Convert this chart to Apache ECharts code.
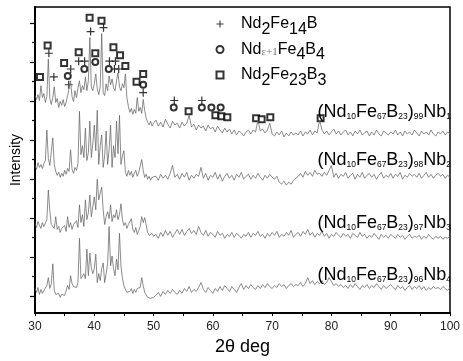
<!DOCTYPE html>
<html>
<head>
<meta charset="utf-8">
<script src="https://cdn.jsdelivr.net/npm/echarts@6/dist/echarts.min.js"></script>
<style>
  html, body { margin: 0; padding: 0; background: #fff; }
  #xrd { width: 463px; height: 361px; }
</style>
</head>
<body>
<div id="xrd"></div>
<script>
// sampling of the patterns: 30-50 deg every 0.25, 50.4-100 deg every 0.4
var lowStart = 30, lowStep = 0.25;
var highStart = 50.4, highStep = 0.4;

// intensities (a.u., offset per pattern)
var nb1Low = [
  221,217,222,216,231,219,223,214,
  220,258,218,212,219,230,214,218,
  209,215,211,217,210,214,221,222,
  236,220,215,226,219,229,236,224,
  231,227,240,226,236,280,230,226,
  233,243,228,222,230,284,224,221,
  233,226,241,232,238,229,226,236,
  244,230,226,233,229,243,219,210,
  204,208,202,207,203,219,205,209,
  203,217,206,198,194,191,195,190,
  193
];
var nb1High = [
  196,190,194,189,197,192,188,195,191,193,
  188,194,190,193,201,189,192,186,191,188,
  190,185,191,187,189,184,190,186,183,188,
  184,187,182,186,181,185,183,180,184,186,
  182,186,184,196,185,187,183,186,193,182,
  180,184,181,185,179,183,180,184,181,183,
  181,185,180,184,182,186,181,185,183,196,
  186,182,185,181,184,187,182,185,181,184,
  186,181,184,180,185,182,186,181,183,185,
  180,184,181,186,182,180,185,183,181,184,
  182,186,181,184,180,185,182,184,181,186,
  183,180,185,182,184,181,186,182,180,184,
  182,185,181,184,182
];
var nb2Low = [
  150,146,153,148,151,147,152,155,
  186,157,150,148,178,151,144,140,
  143,138,142,139,145,141,147,144,
  166,146,142,148,145,152,205,161,
  170,158,188,155,163,195,158,172,
  191,165,206,151,170,181,148,160,
  185,151,166,191,148,170,158,195,
  162,201,151,160,165,143,139,145,
  140,144,138,142,145,139,143,141,
  156,145,138,141,136,139,135,138,
  136
];
var nb2High = [
  139,135,141,137,140,136,142,150,138,141,
  136,142,138,143,135,140,137,141,139,148,
  137,142,135,140,138,143,136,141,134,139,
  142,137,140,135,141,138,143,136,139,141,
  136,140,137,142,138,135,140,137,141,138,
  136,139,133,131,134,130,133,131,135,137,
  139,142,138,144,140,143,139,145,141,142,
  139,143,140,145,150,138,142,137,141,139,
  143,137,140,142,136,141,138,143,137,140,
  142,138,141,136,140,143,137,140,138,142,
  137,141,139,143,136,140,138,142,139,141,
  138,142,137,140,143,138,141,137,140,142,
  139,141,137,140,138
];
var nb3Low = [
  91,87,93,89,86,92,88,90,
  95,125,104,90,92,86,98,85,
  88,82,86,84,89,83,98,87,
  92,85,90,88,94,87,110,92,
  100,88,115,95,102,120,98,108,
  118,105,136,115,122,128,105,90,
  98,103,96,110,93,100,97,105,
  95,100,111,95,89,92,86,90,
  88,96,85,82,87,80,84,88,
  98,92,97,90,82,79,77,81,
  78
];
var nb3High = [
  80,76,82,78,84,79,83,77,81,85,
  80,85,79,83,86,81,84,80,88,82,
  79,84,78,82,80,77,83,79,81,76,
  80,78,82,77,81,79,76,80,78,82,
  77,81,79,83,78,80,76,81,78,82,
  79,83,77,80,78,82,79,84,77,80,
  82,78,83,80,85,79,82,77,81,79,
  83,78,81,76,80,78,82,79,77,81,
  78,80,76,81,79,77,82,78,80,76,
  79,77,81,78,75,80,77,79,76,80,
  78,76,80,77,79,75,78,80,76,78,
  77,79,75,78,76,80,77,75,78,76,
  78,75,77,76,78
];
var nb4Low = [
  25,21,26,19,24,20,23,22,
  28,36,25,30,50,23,19,17,
  20,16,19,17,18,20,28,24,
  38,30,27,29,26,31,76,35,
  33,40,35,65,38,61,46,40,
  45,60,31,40,33,45,51,31,
  40,50,88,48,58,45,38,55,
  44,81,48,35,28,24,21,23,
  22,25,20,24,21,25,23,26,
  36,28,21,19,16,18,15,17,
  16
];
var nb4High = [
  18,21,17,22,19,23,20,24,21,19,
  23,20,25,22,27,21,24,22,26,31,
  24,21,26,23,20,25,22,27,23,28,
  25,22,27,24,21,26,30,24,28,25,
  29,26,24,28,25,29,26,30,27,25,
  28,26,30,27,29,25,28,30,27,29,
  28,31,27,30,36,30,33,29,32,30,
  33,29,31,36,32,28,30,27,29,26,
  28,25,29,26,30,27,24,28,26,29,
  25,28,26,30,27,24,28,25,27,29,
  26,24,28,25,27,23,26,28,24,27,
  25,28,24,27,23,26,24,27,25,26,
  24,27,25,23,26
];

// phase marks [2theta, height]
var plusMarks = [[32.34,264],[33.18,240],[35.69,232],[36.03,248],[37.37,256],[38.37,256],
  [39.38,286],[41.56,290],[42.56,256],[43.57,256],[43.40,248],[44.12,248],[48.25,224],
  [53.50,216],[58.14,216]];
var circleMarks = [[35.53,241],[38.32,248],[40.17,255],[42.44,248],[48.25,232],[53.40,209],
  [58.14,209],[59.76,209],[61.32,209]];
var squareMarks = [[30.84,240],[32.13,272],[34.91,254],[37.37,265],[39.21,300],[40.17,264],
  [41.22,297],[43.23,270],[44.35,262],[45.24,251],[47.13,235],[48.25,243],[55.91,205],
  [60.43,201],[61.44,200],[62.44,199],[67.30,198],[68.23,197],[69.69,199],[78.18,198]];

var phaseNames = ["Nd2Fe14B", "Nd\u03b5+1Fe4B4", "Nd2Fe23B3"];
var phaseRich = [
  "{g|}{m|Nd}{s|2}{m|Fe}{s|14}{m|B}",
  "{g|}{m|Nd}{e|\u03b5+1}{m|Fe}{s|4}{m|B}{s|4}",
  "{g|}{m|Nd}{s|2}{m|Fe}{s|23}{m|B}{s|3}"
];
var sampleNb = ["99", "98", "97", "96"];
var sampleX = ["1", "2", "3", "4"];
var sampleY = [112, 160, 223, 275];

var FONT = "'Liberation Sans', Arial, sans-serif";

function pairs(low, high) {
  var out = [];
  for (var i = 0; i < low.length; i++) out.push([lowStart + i * lowStep, low[i]]);
  for (var j = 0; j < high.length; j++) out.push([+(highStart + j * highStep).toFixed(2), high[j]]);
  return out;
}

var patterns = [pairs(nb1Low, nb1High), pairs(nb2Low, nb2High), pairs(nb3Low, nb3High), pairs(nb4Low, nb4High)];

var chart = echarts.init(document.getElementById("xrd"));

var series = patterns.map(function (d) {
  return {
    type: "line", data: d, symbol: "none", silent: true,
    lineStyle: { color: "#666", width: 0.75 }
  };
});
var plusPath = "path://M4.25,0h1.5v4.25h4.25v1.5h-4.25v4.25h-1.5v-4.25h-4.25v-1.5h4.25z";
series.push({ name: phaseNames[0], type: "scatter", data: plusMarks, symbol: plusPath, symbolSize: 8,
  itemStyle: { color: "#000" } });
series.push({ name: phaseNames[1], type: "scatter", data: circleMarks, symbol: "emptyCircle", symbolSize: 6,
  itemStyle: { color: "#000", borderColor: "#000", borderWidth: 0.9 } });
series.push({ name: phaseNames[2], type: "scatter", data: squareMarks, symbol: "emptyRect", symbolSize: 6,
  itemStyle: { color: "#000", borderColor: "#000", borderWidth: 0.9 } });

// subscripts: the negative bottom padding keeps the line height, the top padding drops the glyphs
var labels = sampleNb.map(function (n, i) {
  return {
    type: "text", x: 451, y: sampleY[i], silent: true, z: 100,
    style: {
      text: "{m|(Nd}{s|10}{m|Fe}{s|67}{m|B}{s|23}{m|)}{s|" + n + "}{m|Nb}{s|" + sampleX[i] + "}",
      align: "right", verticalAlign: "middle",
      rich: {
        m: { fontFamily: FONT, fontSize: 18, lineHeight: 20, fill: "#000" },
        s: { fontFamily: FONT, fontSize: 8.5, lineHeight: 20, padding: [4.5, 0, -4.5, 0], fill: "#000" }
      }
    }
  };
});

var option = {
  animation: false,
  backgroundColor: "#fff",
  grid: [
    { left: 35, right: 10, top: 7, bottom: 43, show: true, borderColor: "#000", borderWidth: 1.5 },
    { left: 35, right: 10, top: 23, height: 273 }
  ],
  xAxis: [
    {
      type: "value", gridIndex: 0, min: 30, max: 100, interval: 10,
      name: "2\u03b8 deg", nameLocation: "middle", nameGap: 18,
      nameTextStyle: { fontFamily: FONT, fontSize: 18, color: "#000" },
      axisLine: { lineStyle: { color: "#000", width: 2 } },
      axisTick: { inside: false, length: 3, lineStyle: { color: "#000" } },
      minorTick: { show: true, splitNumber: 2, length: 3, lineStyle: { color: "#000" } },
      axisLabel: { fontFamily: FONT, fontSize: 12, color: "#222", margin: 8 },
      splitLine: { show: false }
    },
    { type: "value", gridIndex: 1, min: 0, max: 1, show: false }
  ],
  yAxis: [
    {
      type: "value", gridIndex: 0, min: 0, max: 311,
      name: "Intensity", nameLocation: "middle", nameGap: 12, nameRotate: 90,
      nameTextStyle: { fontFamily: FONT, fontSize: 14, color: "#000" },
      axisLine: { show: true, lineStyle: { color: "#000", width: 2 } },
      axisTick: { show: false }, axisLabel: { show: false }, splitLine: { show: false }
    },
    {
      type: "value", gridIndex: 1, min: 0, max: 7, interval: 1,
      axisLine: { show: false },
      axisTick: { show: true, length: 5, lineStyle: { color: "#000", width: 1.2 } },
      minorTick: { show: true, splitNumber: 2, length: 3, lineStyle: { color: "#000", width: 1.2 } },
      axisLabel: { show: false }, splitLine: { show: false }
    }
  ],
  legend: {
    orient: "vertical", left: 215.5, top: 11, padding: [5, 5, 5, 0],
    itemWidth: 7, itemHeight: 7, itemGap: 4,
    itemStyle: { borderWidth: 0.9 },
    data: phaseNames, selectedMode: false,
    formatter: function (name) { return phaseRich[phaseNames.indexOf(name)]; },
    textStyle: {
      color: "#000",
      rich: {
        g: { width: 12.5 },
        m: { fontFamily: FONT, fontSize: 16, lineHeight: 20, color: "#000" },
        s: { fontFamily: FONT, fontSize: 16, lineHeight: 20, padding: [5.5, 0, -5.5, 0], color: "#000" },
        e: { fontFamily: "'Liberation Serif', serif", fontSize: 11, lineHeight: 20, padding: [2.5, 0, -2.5, 0], color: "#777" }
      }
    }
  },
  graphic: labels,
  series: series
};

chart.setOption(option);
</script>
</body>
</html>
